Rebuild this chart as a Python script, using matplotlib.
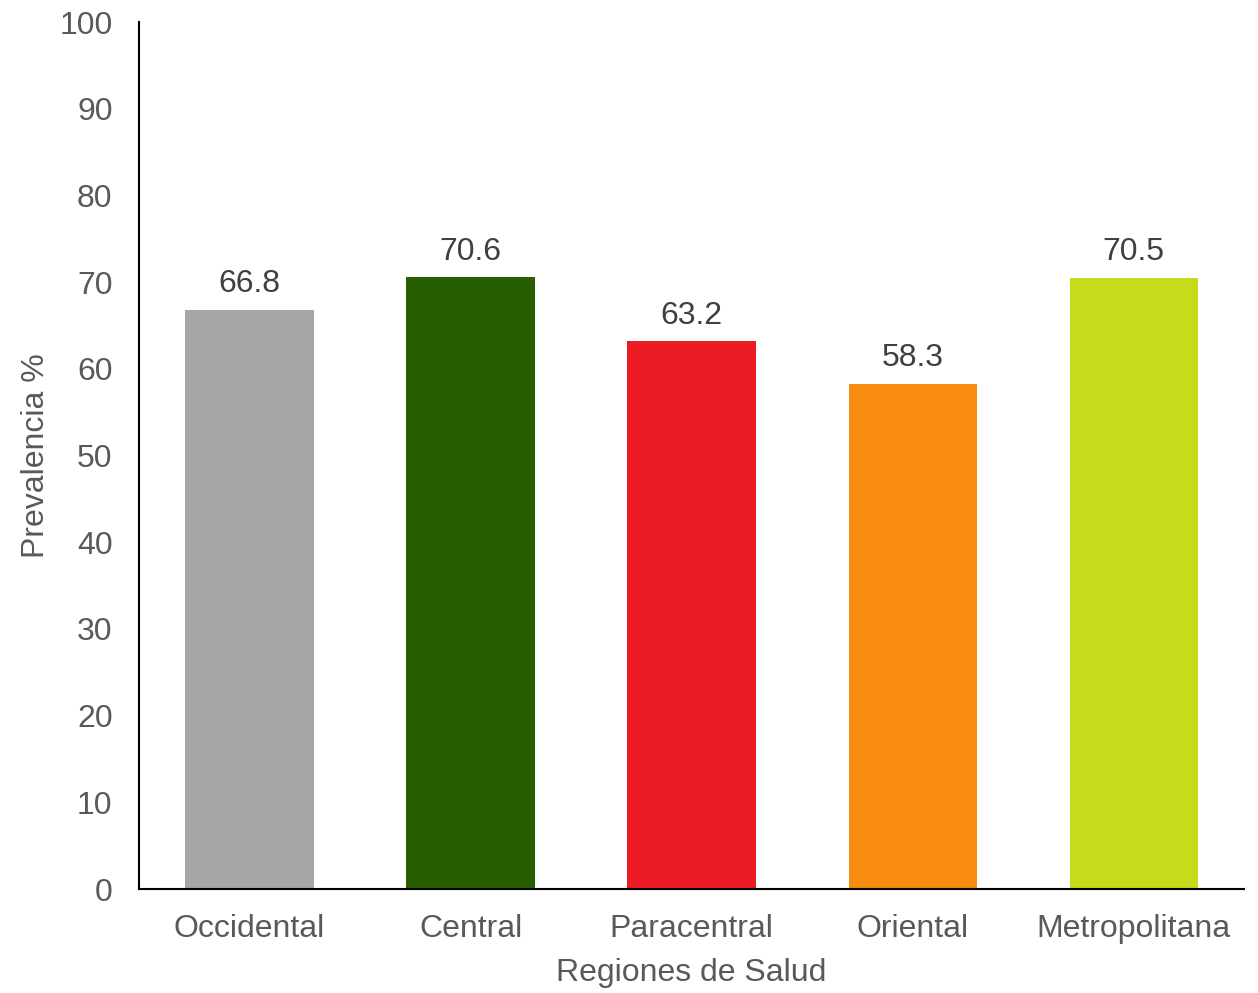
import matplotlib
matplotlib.use("Agg")
import matplotlib.pyplot as plt

categories = ["Occidental", "Central", "Paracentral", "Oriental", "Metropolitana"]
values = [66.8, 70.6, 63.2, 58.3, 70.5]
colors = ["#A6A6A6", "#265E00", "#EC1C24", "#F88B10", "#C6DC1A"]
yticks = [0, 10, 20, 30, 40, 50, 60, 70, 80, 90, 100]

plt.rcParams['font.family'] = ['Liberation Sans', 'DejaVu Sans']

fig = plt.figure(figsize=(12.58, 9.93), dpi=100)
ax = fig.add_axes([0.1105, 0.1047, 0.8785, 0.8731])

x = range(len(categories))
bars = ax.bar(x, values, width=0.58, color=colors, zorder=2)
for xi, v in zip(x, values):
    ax.text(xi, v + 1.2, f"{v:.1f}", ha='center', va='bottom', fontsize=23, color='#404040')

ax.set_xlim(-0.5, len(categories) - 0.5)
ax.set_ylim(0, 100)
ax.set_yticks(yticks)
ax.set_xticks(list(x))
ax.set_xticklabels(categories)
ax.tick_params(axis='both', length=0, labelsize=23, labelcolor='#595959')
ax.tick_params(axis='y', pad=19)
ax.tick_params(axis='x', pad=18)

for s in ['top', 'right']:
    ax.spines[s].set_visible(False)
ax.spines['left'].set_color('black')
ax.spines['bottom'].set_color('black')
ax.spines['left'].set_linewidth(1.5)
ax.spines['bottom'].set_linewidth(1.5)

ax.set_ylabel("Prevalencia %", fontsize=23, color='#595959', labelpad=6)
ax.set_xlabel("Regiones de Salud", fontsize=23, color='#595959', labelpad=10)

fig.savefig("out.png", dpi=100)
